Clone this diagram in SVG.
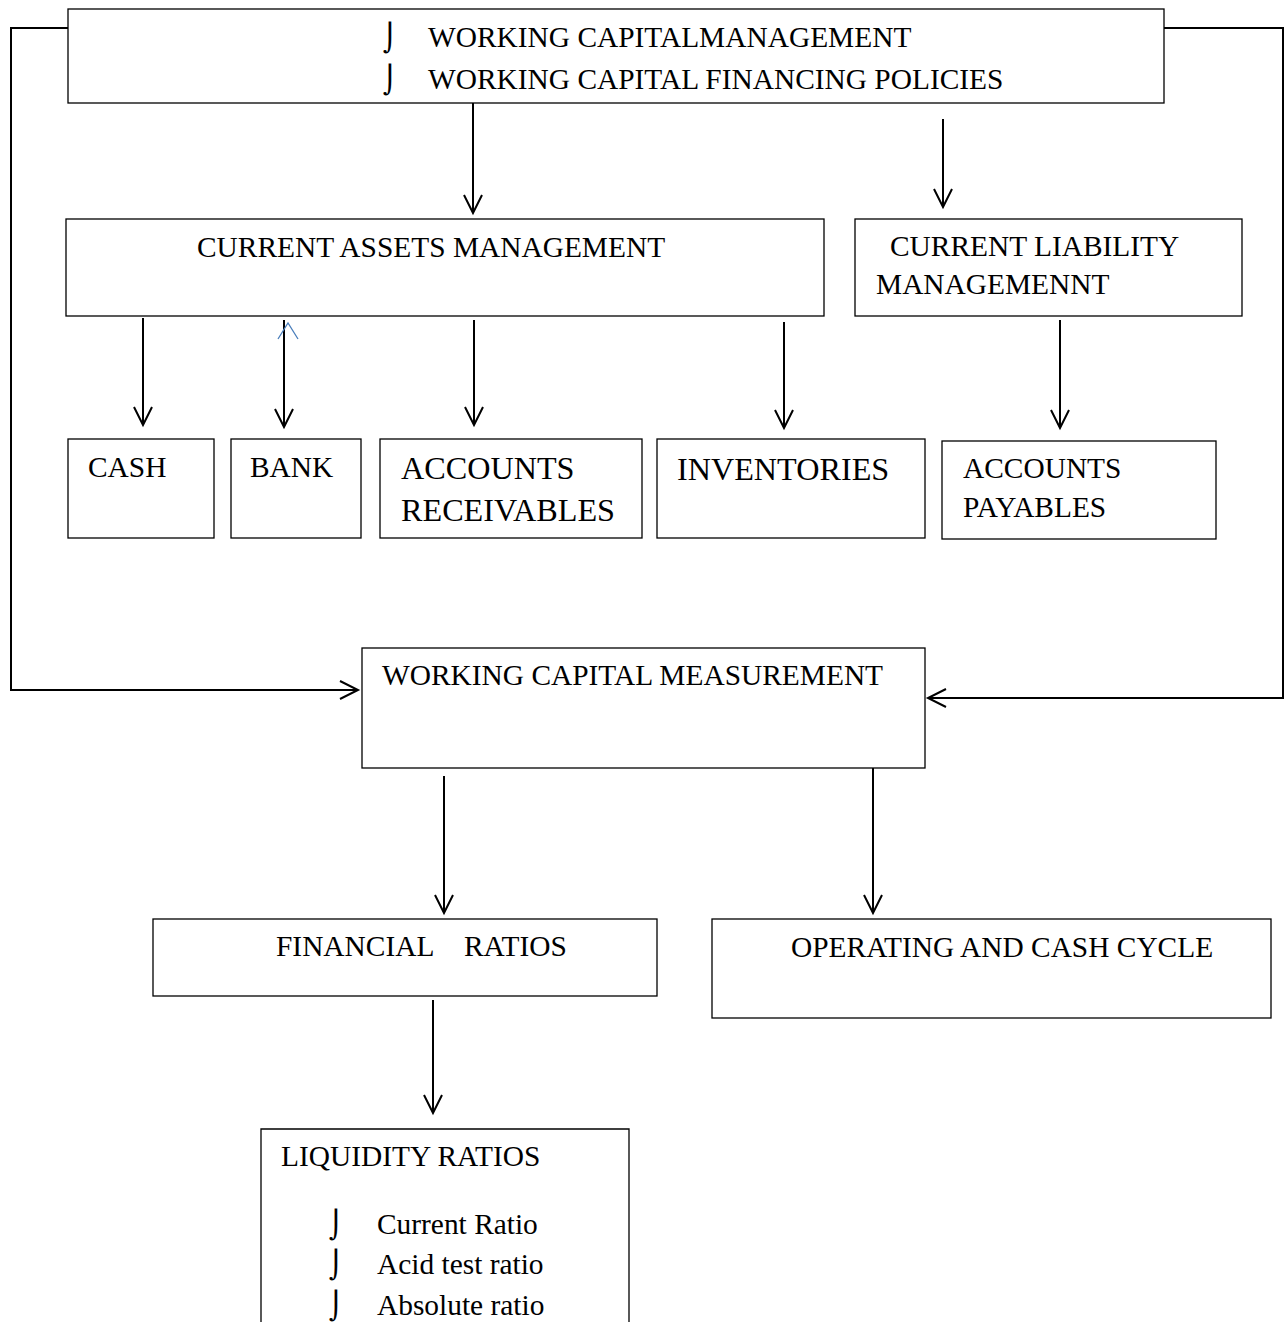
<svg xmlns="http://www.w3.org/2000/svg" width="1284" height="1322" viewBox="0 0 1284 1322">
<defs>
<style>
.b{fill:#fff;stroke:#000;stroke-width:1.3}
.t{font-family:"Liberation Serif","Times New Roman",serif;font-size:29.4px;fill:#000}
.tl{font-family:"Liberation Serif","Times New Roman",serif;font-size:32.2px;fill:#000}
.bul{font-family:"DejaVu Sans",sans-serif;font-size:27px;fill:#000}
.c{fill:none;stroke:#000;stroke-width:2}
.h{fill:none;stroke:#000;stroke-width:2}
</style>
</defs>
<rect width="1284" height="1322" fill="#fff"/>
<g id="connectors">
<polyline class="c" points="68,28 11,28 11,690 358,690"/>
<polyline class="h" points="340,681 358,690 340,699"/>
<polyline class="c" points="1164,28 1283,28 1283,698 928,698"/>
<polyline class="h" points="946,689 928,698 946,707"/>
<line class="c" x1="473" y1="103" x2="473" y2="213"/><polyline class="h" points="464,195 473,213 482,195"/>
<line class="c" x1="943" y1="119" x2="943" y2="207"/><polyline class="h" points="934,189 943,207 952,189"/>
<line class="c" x1="143" y1="318" x2="143" y2="425"/><polyline class="h" points="134,407 143,425 152,407"/>
<line class="c" x1="284" y1="320" x2="284" y2="427"/><polyline class="h" points="275,409 284,427 293,409"/>
<polyline fill="none" stroke="#4a7ebb" stroke-width="1.3" points="278,339 288,323 298,339"/>
<line class="c" x1="474" y1="320" x2="474" y2="425"/><polyline class="h" points="465,407 474,425 483,407"/>
<line class="c" x1="784" y1="322" x2="784" y2="428"/><polyline class="h" points="775,410 784,428 793,410"/>
<line class="c" x1="1060" y1="320" x2="1060" y2="428"/><polyline class="h" points="1051,410 1060,428 1069,410"/>
<line class="c" x1="444" y1="776" x2="444" y2="913"/><polyline class="h" points="435,895 444,913 453,895"/>
<line class="c" x1="873" y1="768" x2="873" y2="913"/><polyline class="h" points="864,895 873,913 882,895"/>
<line class="c" x1="433" y1="1000" x2="433" y2="1113"/><polyline class="h" points="424,1095 433,1113 442,1095"/>
</g>
<g id="top">
<rect class="b" x="68" y="9" width="1096" height="94"/>
<text class="bul" x="383" y="47">⌡</text>
<text class="t" x="428" y="47">WORKING CAPITALMANAGEMENT</text>
<text class="bul" x="383" y="89">⌡</text>
<text class="t" x="428" y="89">WORKING CAPITAL FINANCING POLICIES</text>
</g>
<g id="cam">
<rect class="b" x="66" y="219" width="758" height="97"/>
<text class="t" x="197" y="257">CURRENT ASSETS MANAGEMENT</text>
</g>
<g id="clm">
<rect class="b" x="855" y="219" width="387" height="97"/>
<text class="t" x="890" y="256">CURRENT LIABILITY</text>
<text class="t" x="876" y="294">MANAGEMENNT</text>
</g>
<g id="cash">
<rect class="b" x="68" y="439" width="146" height="99"/>
<text class="t" x="88" y="477">CASH</text>
</g>
<g id="bank">
<rect class="b" x="231" y="439" width="130" height="99"/>
<text class="t" x="250" y="477">BANK</text>
</g>
<g id="ar">
<rect class="b" x="380" y="439" width="262" height="99"/>
<text class="tl" x="401" y="479">ACCOUNTS</text>
<text class="tl" x="401" y="521">RECEIVABLES</text>
</g>
<g id="inv">
<rect class="b" x="657" y="439" width="268" height="99"/>
<text class="tl" x="677" y="480">INVENTORIES</text>
</g>
<g id="ap">
<rect class="b" x="942" y="441" width="274" height="98"/>
<text class="t" x="963" y="478">ACCOUNTS</text>
<text class="t" x="963" y="517">PAYABLES</text>
</g>
<g id="wcm">
<rect class="b" x="362" y="648" width="563" height="120"/>
<text class="t" x="382" y="685">WORKING CAPITAL MEASUREMENT</text>
</g>
<g id="fr">
<rect class="b" x="153" y="919" width="504" height="77"/>
<text class="t" x="276" y="956">FINANCIAL</text>
<text class="t" x="464" y="956">RATIOS</text>
</g>
<g id="occ">
<rect class="b" x="712" y="919" width="559" height="99"/>
<text class="t" x="791" y="957">OPERATING AND CASH CYCLE</text>
</g>
<g id="lr">
<path class="b" d="M261,1323 V1129 H629 V1323"/>
<text class="t" x="281" y="1166">LIQUIDITY RATIOS</text>
<text class="bul" x="329" y="1234">⌡</text>
<text class="t" x="377" y="1234">Current Ratio</text>
<text class="bul" x="329" y="1274">⌡</text>
<text class="t" x="377" y="1274">Acid test ratio</text>
<text class="bul" x="329" y="1315">⌡</text>
<text class="t" x="377" y="1315">Absolute ratio</text>
</g>
</svg>
